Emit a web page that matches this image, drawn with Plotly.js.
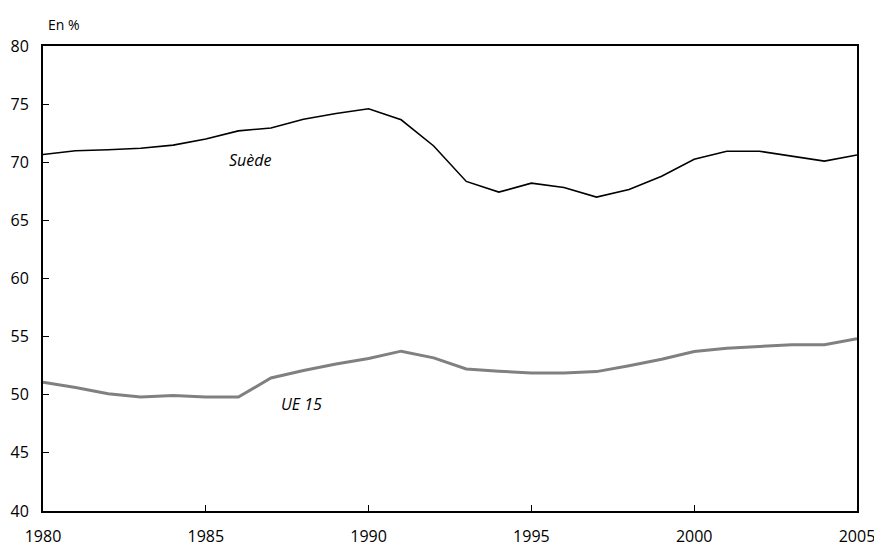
<!DOCTYPE html>
<html>
<head>
<meta charset="utf-8">
<script src="https://cdn.plot.ly/plotly-3.0.1.min.js"></script>
<style>html,body{margin:0;padding:0;background:#fff;}#chart{width:874px;height:546px;}</style>
</head>
<body>
<div id="chart"></div>
<script>
var years = [1980,1981,1982,1983,1984,1985,1986,1987,1988,1989,1990,1991,1992,1993,1994,1995,1996,1997,1998,1999,2000,2001,2002,2003,2004,2005];
var suede = [70.67,70.99,71.07,71.2,71.47,72.0,72.7,72.95,73.7,74.2,74.6,73.65,71.4,68.35,67.43,68.2,67.83,67.0,67.66,68.8,70.26,70.95,70.95,70.52,70.1,70.63];
var ue15 = [51.07,50.63,50.08,49.8,49.94,49.8,49.8,51.44,52.08,52.65,53.12,53.75,53.17,52.22,52.02,51.87,51.87,51.99,52.5,53.06,53.72,54.0,54.15,54.3,54.3,54.82];
var seriesNames = ["Suède","UE 15"];
var yTicks = [40,45,50,55,60,65,70,75,80];
var xTicks = [1980,1985,1990,1995,2000,2005];

var font = "Open Sans, Lato, sans-serif";
var traces = [
  {x: years, y: suede, mode: "lines", name: seriesNames[0], line: {color: "#000000", width: 1.6}, hoverinfo: "skip"},
  {x: years, y: ue15, mode: "lines", name: seriesNames[1], line: {color: "#808080", width: 3}, hoverinfo: "skip"}
];
var layout = {
  width: 874, height: 546,
  margin: {l: 43, r: 17, t: 46, b: 35},
  paper_bgcolor: "#fff", plot_bgcolor: "#fff",
  showlegend: false,
  font: {family: font, size: 16, color: "#000"},
  xaxis: {
    range: [1980, 2005.0005], tickvals: xTicks, ticktext: xTicks.map(String),
    ticks: "inside", ticklen: 6, tickwidth: 1.2, tickcolor: "#000",
    showline: true, linecolor: "#000", linewidth: 2, mirror: true,
    showgrid: false, zeroline: false, ticklabelstandoff: 10,
    ticklabeloverflow: "allow",
    tickfont: {family: font, size: 16, color: "#000"}
  },
  yaxis: {
    range: [40, 80], tickvals: yTicks, ticktext: yTicks.map(String),
    ticks: "inside", ticklen: 6, tickwidth: 1.2, tickcolor: "#000",
    showline: true, linecolor: "#000", linewidth: 2, mirror: true,
    showgrid: false, zeroline: false, ticklabelstandoff: 9,
    tickfont: {family: font, size: 16, color: "#000"}
  },
  annotations: [
    {xref: "paper", yref: "paper", x: 0.0, y: 1, xanchor: "left", yanchor: "bottom", yshift: 10, xshift: 3,
     text: "En %", showarrow: false, font: {family: font, size: 14, color: "#000"}},
    {x: 1986.37, y: 70.2, text: "<i>" + seriesNames[0] + "</i>", showarrow: false, font: {family: font, size: 16, color: "#000"}},
    {x: 1987.94, y: 49.2, text: "<i>" + seriesNames[1] + "</i>", showarrow: false, font: {family: font, size: 16, color: "#000"}}
  ]
};
Plotly.newPlot("chart", traces, layout, {displayModeBar: false, staticPlot: true});
</script>
</body>
</html>
